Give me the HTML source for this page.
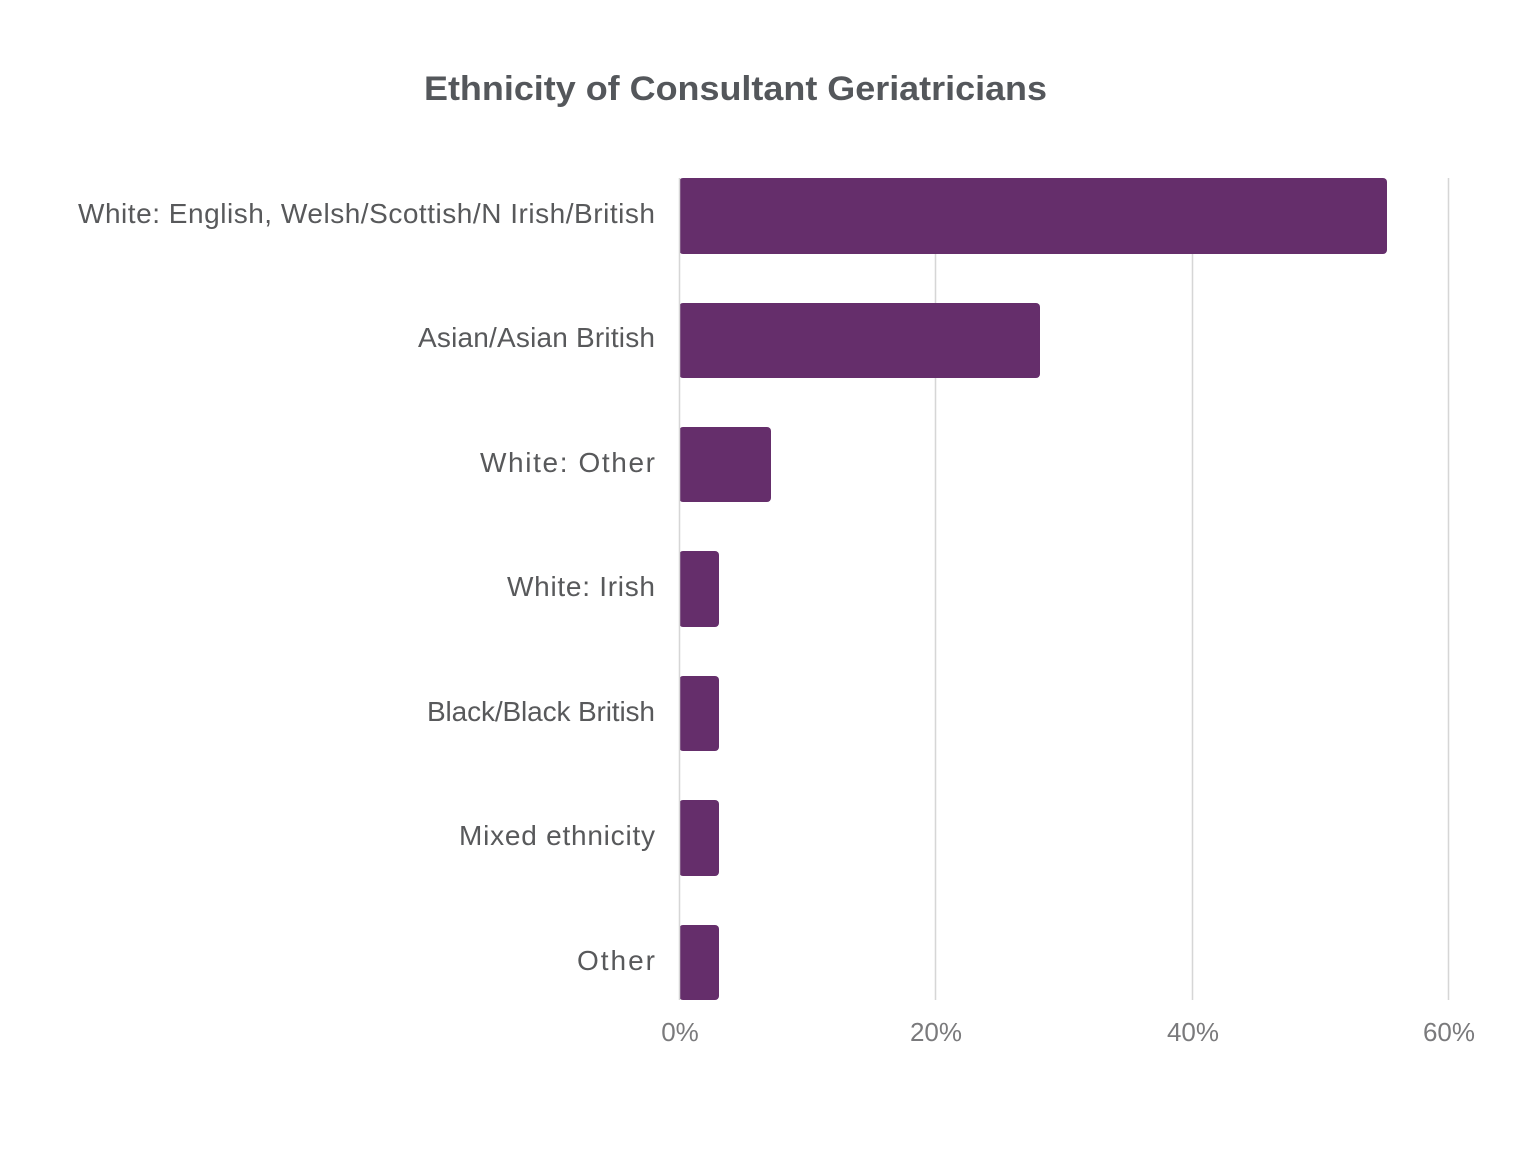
<!DOCTYPE html>
<html><head><meta charset="utf-8"><style>
body{margin:0;background:#fff;}
svg text{font-family:"Liberation Sans",sans-serif;}
</style></head><body>
<svg width="1536" height="1152" viewBox="0 0 1536 1152" xmlns="http://www.w3.org/2000/svg">
<rect width="1536" height="1152" fill="#fff"/>
<text x="424" y="100" font-size="34" font-weight="bold" fill="#54575b" textLength="623" lengthAdjust="spacingAndGlyphs">Ethnicity of Consultant Geriatricians</text>
<g stroke="#d6d6d6" stroke-width="1.5">
<line x1="935.5" y1="178" x2="935.5" y2="1000"/>
<line x1="1192.5" y1="178" x2="1192.5" y2="1000"/>
<line x1="1448.5" y1="178" x2="1448.5" y2="1000"/>
</g>
<g fill="#652e6b">
<rect x="679" y="178" width="708" height="76" rx="4"/>
<rect x="679" y="303" width="361" height="75" rx="4"/>
<rect x="679" y="427" width="92" height="75" rx="4"/>
<rect x="679" y="551" width="40" height="76" rx="4"/>
<rect x="679" y="676" width="40" height="75" rx="4"/>
<rect x="679" y="800" width="40" height="76" rx="4"/>
<rect x="679" y="925" width="40" height="75" rx="4"/>
</g>
<rect x="670" y="170" width="9" height="840" fill="#fff"/>
<line x1="679.5" y1="178" x2="679.5" y2="1000" stroke="#d6d6d6" stroke-width="1.5"/>
<g font-size="28" fill="#58595b" lengthAdjust="spacingAndGlyphs">
<text x="78" y="223" textLength="577">White: English, Welsh/Scottish/N Irish/British</text>
<text x="418" y="347" textLength="237">Asian/Asian British</text>
<text x="480" y="472" textLength="175">White: Other</text>
<text x="507" y="596" textLength="148">White: Irish</text>
<text x="427" y="721" textLength="228">Black/Black British</text>
<text x="459" y="845" textLength="196">Mixed ethnicity</text>
<text x="577" y="970" textLength="78">Other</text>
</g>
<g font-size="26" fill="#7a7a7c" text-anchor="middle">
<text x="680" y="1041">0%</text>
<text x="936" y="1041">20%</text>
<text x="1193" y="1041">40%</text>
<text x="1449" y="1041">60%</text>
</g>
</svg>
</body></html>
